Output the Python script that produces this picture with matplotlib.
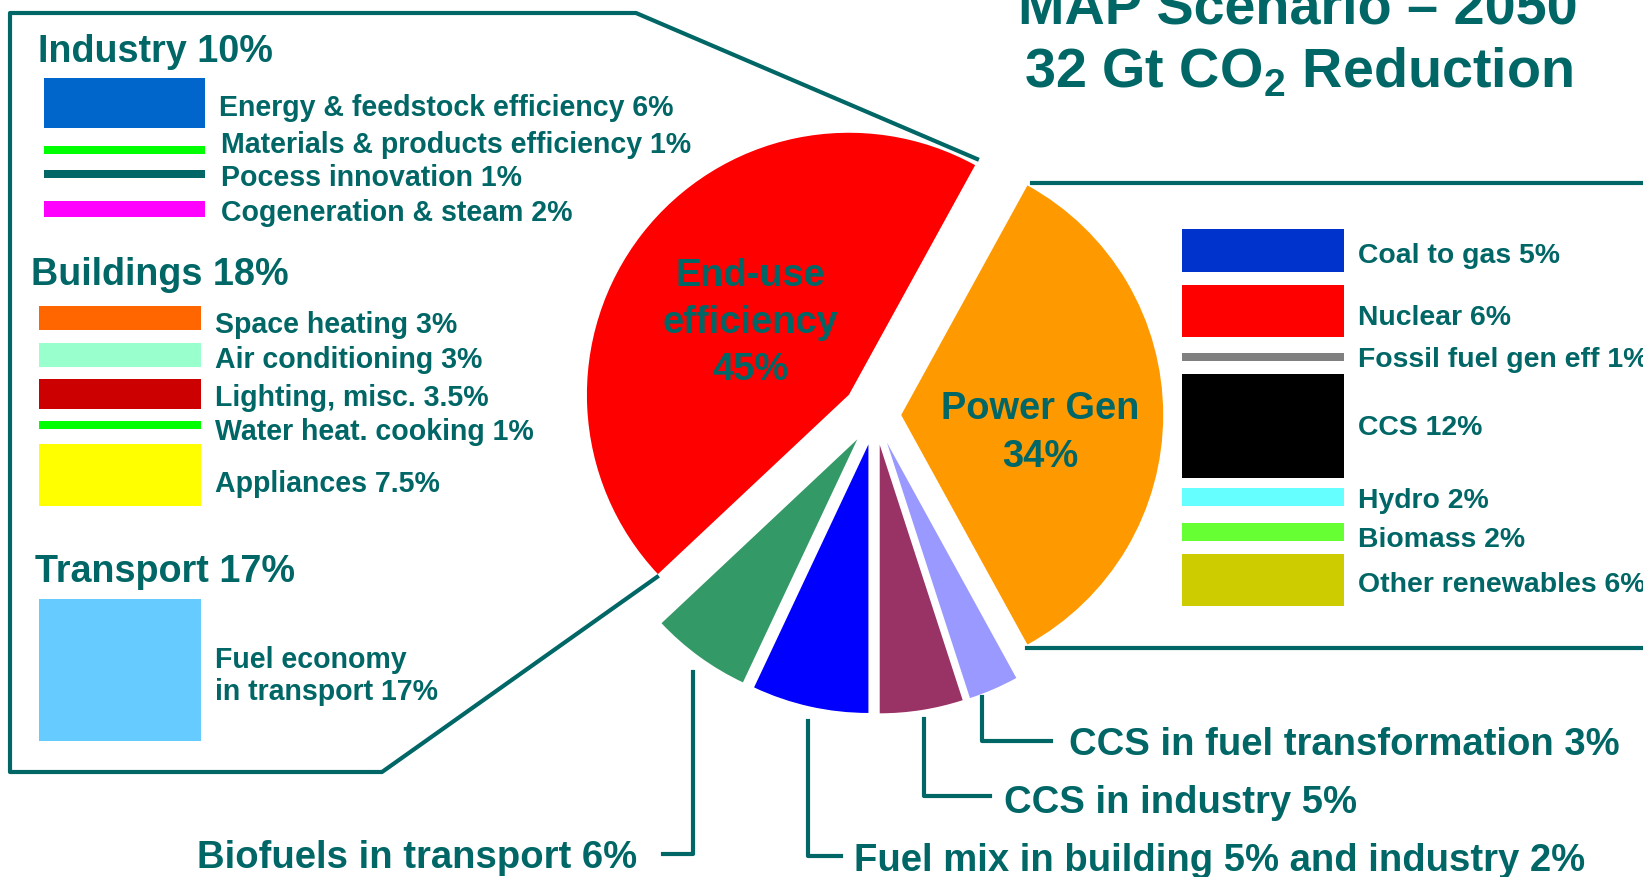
import matplotlib.pyplot as plt
import matplotlib.font_manager as fm
import numpy as np

TEAL = '#006666'

# split of the 32 Gt CO2 reduction (%), counter-clockwise from the top cut
slice_names = ['End-use efficiency', 'Biofuels in transport', 'Fuel mix',
               'CCS in industry', 'CCS in fuel transformation', 'Power Gen']
slice_shares = [45, 6, 7, 5, 3, 34]
slice_colors = ['#ff0000', '#339966', '#0000ff', '#993366', '#9999ff', '#ff9900']
slice_labels = ['End-use\nefficiency\n45%', 'Power Gen\n34%']

callout_texts = ['Biofuels in transport 6%', 'Fuel mix in building 5% and industry 2%',
                 'CCS in industry 5%', 'CCS in fuel transformation 3%']

group_titles = ['Industry 10%', 'Buildings 18%', 'Transport 17%']

industry_names = ['Energy & feedstock efficiency 6%', 'Materials & products efficiency 1%',
                  'Pocess innovation 1%', 'Cogeneration & steam 2%']
industry_vals = [6, 1, 1, 2]
industry_colors = ['#0066cc', '#00ff00', '#006666', '#ff00ff']

buildings_names = ['Space heating 3%', 'Air conditioning 3%', 'Lighting, misc. 3.5%',
                   'Water heat. cooking 1%', 'Appliances 7.5%']
buildings_vals = [3, 3, 3.5, 1, 7.5]
buildings_colors = ['#ff6600', '#99ffcc', '#cc0000', '#00ff00', '#ffff00']

transport_names = ['Fuel economy\nin transport 17%']
transport_vals = [17]
transport_colors = ['#66ccff']

power_names = ['Coal to gas 5%', 'Nuclear 6%', 'Fossil fuel gen eff 1%', 'CCS 12%',
               'Hydro 2%', 'Biomass 2%', 'Other renewables 6%']
power_vals = [5, 6, 1, 12, 2, 2, 6]
power_colors = ['#0033cc', '#ff0000', '#808080', '#000000', '#66ffff', '#66ff33', '#cccc00']

plt.rcParams['mathtext.fontset'] = 'custom'
plt.rcParams['mathtext.rm'] = 'Liberation Sans:bold'
plt.rcParams['mathtext.bf'] = 'Liberation Sans:bold'
names = {f.name for f in fm.fontManager.ttflist}
narrow = 'Liberation Sans Narrow' if 'Liberation Sans Narrow' in names else 'Liberation Sans'
wide = 'Liberation Sans'

W, H = 1643, 877
fig = plt.figure(figsize=(W / 100, H / 100), dpi=100)
ax = fig.add_axes([0, 0, 1, 1])
ax.set_xlim(0, W)
ax.set_ylim(H, 0)
ax.axis('off')

# pie in its own axes, 1 unit = R px
R, cx, cy, half = 262, 875, 415, 330
pax = fig.add_axes([(cx - half) / W, (H - cy - half) / H, 2 * half / W, 2 * half / H])
wedges, _ = pax.pie(slice_shares, colors=slice_colors, startangle=61.2,
                    explode=[0.126, 0.115, 0.115, 0.115, 0.115, 0.1],
                    wedgeprops=dict(linewidth=0))
for w in wedges[1:5]:
    w.set_radius(1.025)
pax.set_xlim(-half / R, half / R)
pax.set_ylim(-half / R, half / R)
pie_txt = [pax.text(-0.477, 0.35, slice_labels[0], ha='center', va='center', color=TEAL,
                    family=wide, weight='bold', linespacing=1.4),
           pax.text(0.63, -0.069, slice_labels[1], ha='center', va='center', color=TEAL,
                    family=wide, weight='bold', linespacing=1.4)]

# callout frames
ax.plot([977, 636, 10, 10, 382, 657], [159, 13, 13, 772, 772, 577], color=TEAL, lw=3)
ax.plot([1032, W], [183, 183], color=TEAL, lw=3)
ax.plot([1027, W], [648, 648], color=TEAL, lw=3)


def bars(vals, colors, x0, x1, yc, scale):
    h = np.array(vals) * scale
    ax.bar((x0 + x1) / 2, h, width=x1 - x0, bottom=np.array(yc) - h / 2, color=colors)


bars(industry_vals, industry_colors, 44, 205, [103, 150, 174, 209], 8.3)
bars(buildings_vals, buildings_colors, 39, 201, [318, 355, 394, 425, 475], 8.3)
bars(transport_vals, transport_colors, 39, 201, [670], 8.3)
bars(power_vals, power_colors, 1182, 1344, [250, 311, 357, 426, 497, 532, 580], 8.6)

kw = dict(color=TEAL, weight='bold', va='center')
titles = [ax.text(x, y, s, family=narrow, **kw)
          for s, x, y in zip(group_titles, [38, 31, 35], [52, 275, 572])]
left_items = [ax.text(x, y, s, family=narrow, **kw) for s, x, y in zip(
    industry_names + buildings_names + transport_names,
    [219, 221, 221, 221] + [215] * 5 + [215],
    [108, 145, 178, 213, 325, 360, 398, 432, 484, 676])]
right_items = [ax.text(1358, y, s, family=wide, **kw)
               for s, y in zip(power_names, [256, 318, 360, 428, 501, 540, 585])]

# bottom callouts: vertical x, top y, elbow y, end x
leaders = [(693, 672, 854, 663), (808, 721, 856, 841), (924, 719, 796, 990), (982, 697, 741, 1051)]
for x, y0, y1, x1 in leaders:
    ax.plot([x, x, x1], [y0, y1, y1], color=TEAL, lw=3)
calls = [ax.text(637, 858, callout_texts[0], ha='right', family=narrow, **kw),
         ax.text(854, 861, callout_texts[1], ha='left', family=narrow, **kw),
         ax.text(1004, 803, callout_texts[2], ha='left', family=narrow, **kw),
         ax.text(1069, 745, callout_texts[3], ha='left', family=narrow, **kw)]

t1 = ax.text(1298, 23, 'MAP Scenario \u2013 2050', ha='center', va='baseline',
             color=TEAL, family=wide, weight='bold')
t2 = ax.text(1298, 87, '32 Gt CO$_\\mathbf{2}$ Reduction', ha='center', va='baseline',
             color=TEAL, family=wide, weight='bold')

r = fig.canvas.get_renderer()


def fit(texts, ref, width):
    k = width / ref.get_window_extent(r).width
    for t in texts:
        t.set_fontsize(t.get_fontsize() * k)


fit(titles, titles[1], 259)
fit(left_items, left_items[0], 456)
fit(right_items, right_items[0], 202)
fit(calls, calls[3], 550)
fit(pie_txt, pie_txt[1], 199)
fit([t1, t2], t2, 555)

fig.savefig('out.png', dpi=100)
